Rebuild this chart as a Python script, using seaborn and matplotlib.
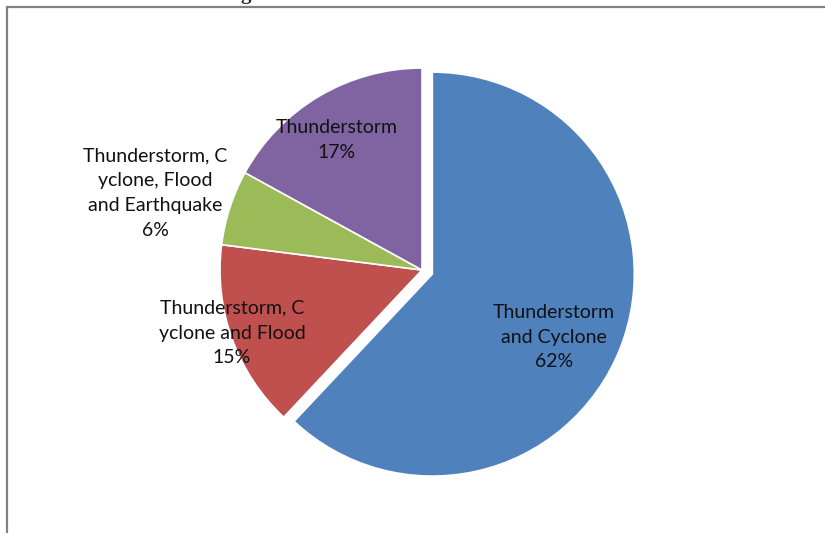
import matplotlib
matplotlib.use("Agg")
import matplotlib.pyplot as plt
import seaborn as sns
from matplotlib.patches import Rectangle

categories = ["Thunderstorm\nand Cyclone",
              "Thunderstorm, C\nyclone and Flood",
              "Thunderstorm, C\nyclone, Flood\nand Earthquake",
              "Thunderstorm"]
values = [62, 15, 6, 17]
colors = ["#4F81BD", "#C0504D", "#9BBB59", "#8064A2"]
explode = [0.055, 0, 0, 0]
label_pos = [(0.653, -0.332), (-0.941, -0.312), (-1.322, 0.381), (-0.421, 0.644)]

sns.set_theme(style="white")
plt.rcParams['font.family'] = ['Lato', 'DejaVu Sans']

W, H = 825, 533
fig = plt.figure(figsize=(W / 100, H / 100), dpi=100)
ax = fig.add_axes([0, 0, 1, 1])
R = 202.0
cx, cy = 422.0, 270.0
ax.axis("off")

ax.pie(values, colors=colors, explode=explode, startangle=90, counterclock=False,
       radius=1.0, wedgeprops=dict(edgecolor="white", linewidth=1.2))

total = sum(values)
for cat, v, (x, y) in zip(categories, values, label_pos):
    ax.text(x, y, f"{cat}\n{round(100 * v / total)}%", ha="center", va="center",
            fontsize=14, color="#111111", linespacing=1.55)

ax.set_xlim(-cx / R, (W - cx) / R)
ax.set_ylim(-(H - cy) / R, cy / R)
ax.set_aspect("auto")

fig.patches.append(Rectangle((7 / W, -0.1), 1.2, (H - 7) / H + 0.1, transform=fig.transFigure,
                             fill=False, edgecolor="#808080", linewidth=1.6))
fig.text(246 / W, 1 + 1 / H, "g", ha="center", va="baseline", fontsize=15,
         fontweight="bold", family="Liberation Serif")

fig.savefig("out.png", dpi=100)
